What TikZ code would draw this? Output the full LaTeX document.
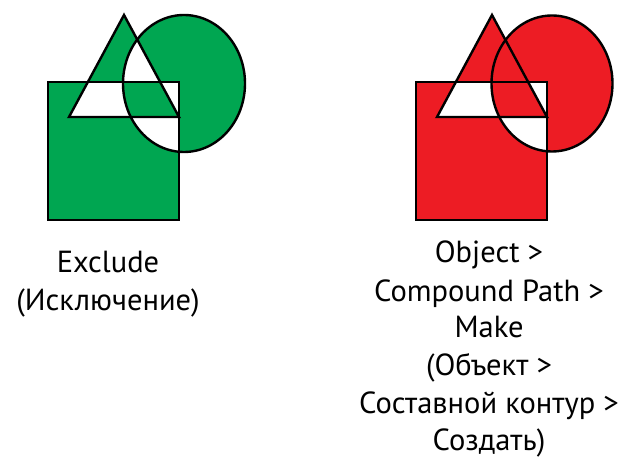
\documentclass[tikz,border=0pt]{standalone}
\usepackage{fontspec}
\setmainfont{PT Sans}
\definecolor{exgreen}{RGB}{0,166,81}
\definecolor{cpred}{RGB}{237,28,36}
\tikzset{
  outline/.style={draw=black, line width=2.4pt, line join=miter},
  lbl/.style={anchor=base, inner sep=0pt, font=\fontsize{30.5}{36}\selectfont}
}
\begin{document}
\begin{tikzpicture}[x=1pt,y=1pt]
\useasboundingbox (0,0) rectangle (629,458);
% left: even-odd
\fill[exgreen, even odd rule]
  (48,238) rectangle (179,376)
  (124,443) -- (69,341) -- (179,341) -- cycle
  (184,374.5) ellipse [x radius=61, y radius=68.5];
\draw[outline] (48,238) rectangle (179,376);
\draw[outline] (124,443) -- (69,341) -- (179,341) -- cycle;
\draw[outline] (184,374.5) ellipse [x radius=61, y radius=68.5];
% right: nonzero compound path
\fill[cpred, nonzero rule]
  (416,376) -- (547,376) -- (547,238) -- (416,238) -- cycle
  (492,443) -- (437,341) -- (547,341) -- cycle
  (552,374.5) ellipse [x radius=60.5, y radius=68];
\draw[outline] (416,238) rectangle (547,376);
\draw[outline] (492,443) -- (437,341) -- (547,341) -- cycle;
\draw[outline] (552,374.5) ellipse [x radius=60.5, y radius=68];
% labels
\node[lbl] (l1) at (108,185) {Exclude};
\node[lbl] (l2) at (108,147) {(Исключение)};
\node[lbl] (r1) at (489,195) {Object >};
\node[lbl] (r2) at (489,156) {Compound Path >};
\node[lbl] (r3) at (489,120) {Make};
\node[lbl] (r4) at (489,83) {(Объект >};
\node[lbl] (r5) at (489,45) {Составной контур >};
\node[lbl] (r6) at (489,8) {Создать)};
\end{tikzpicture}
\end{document}
